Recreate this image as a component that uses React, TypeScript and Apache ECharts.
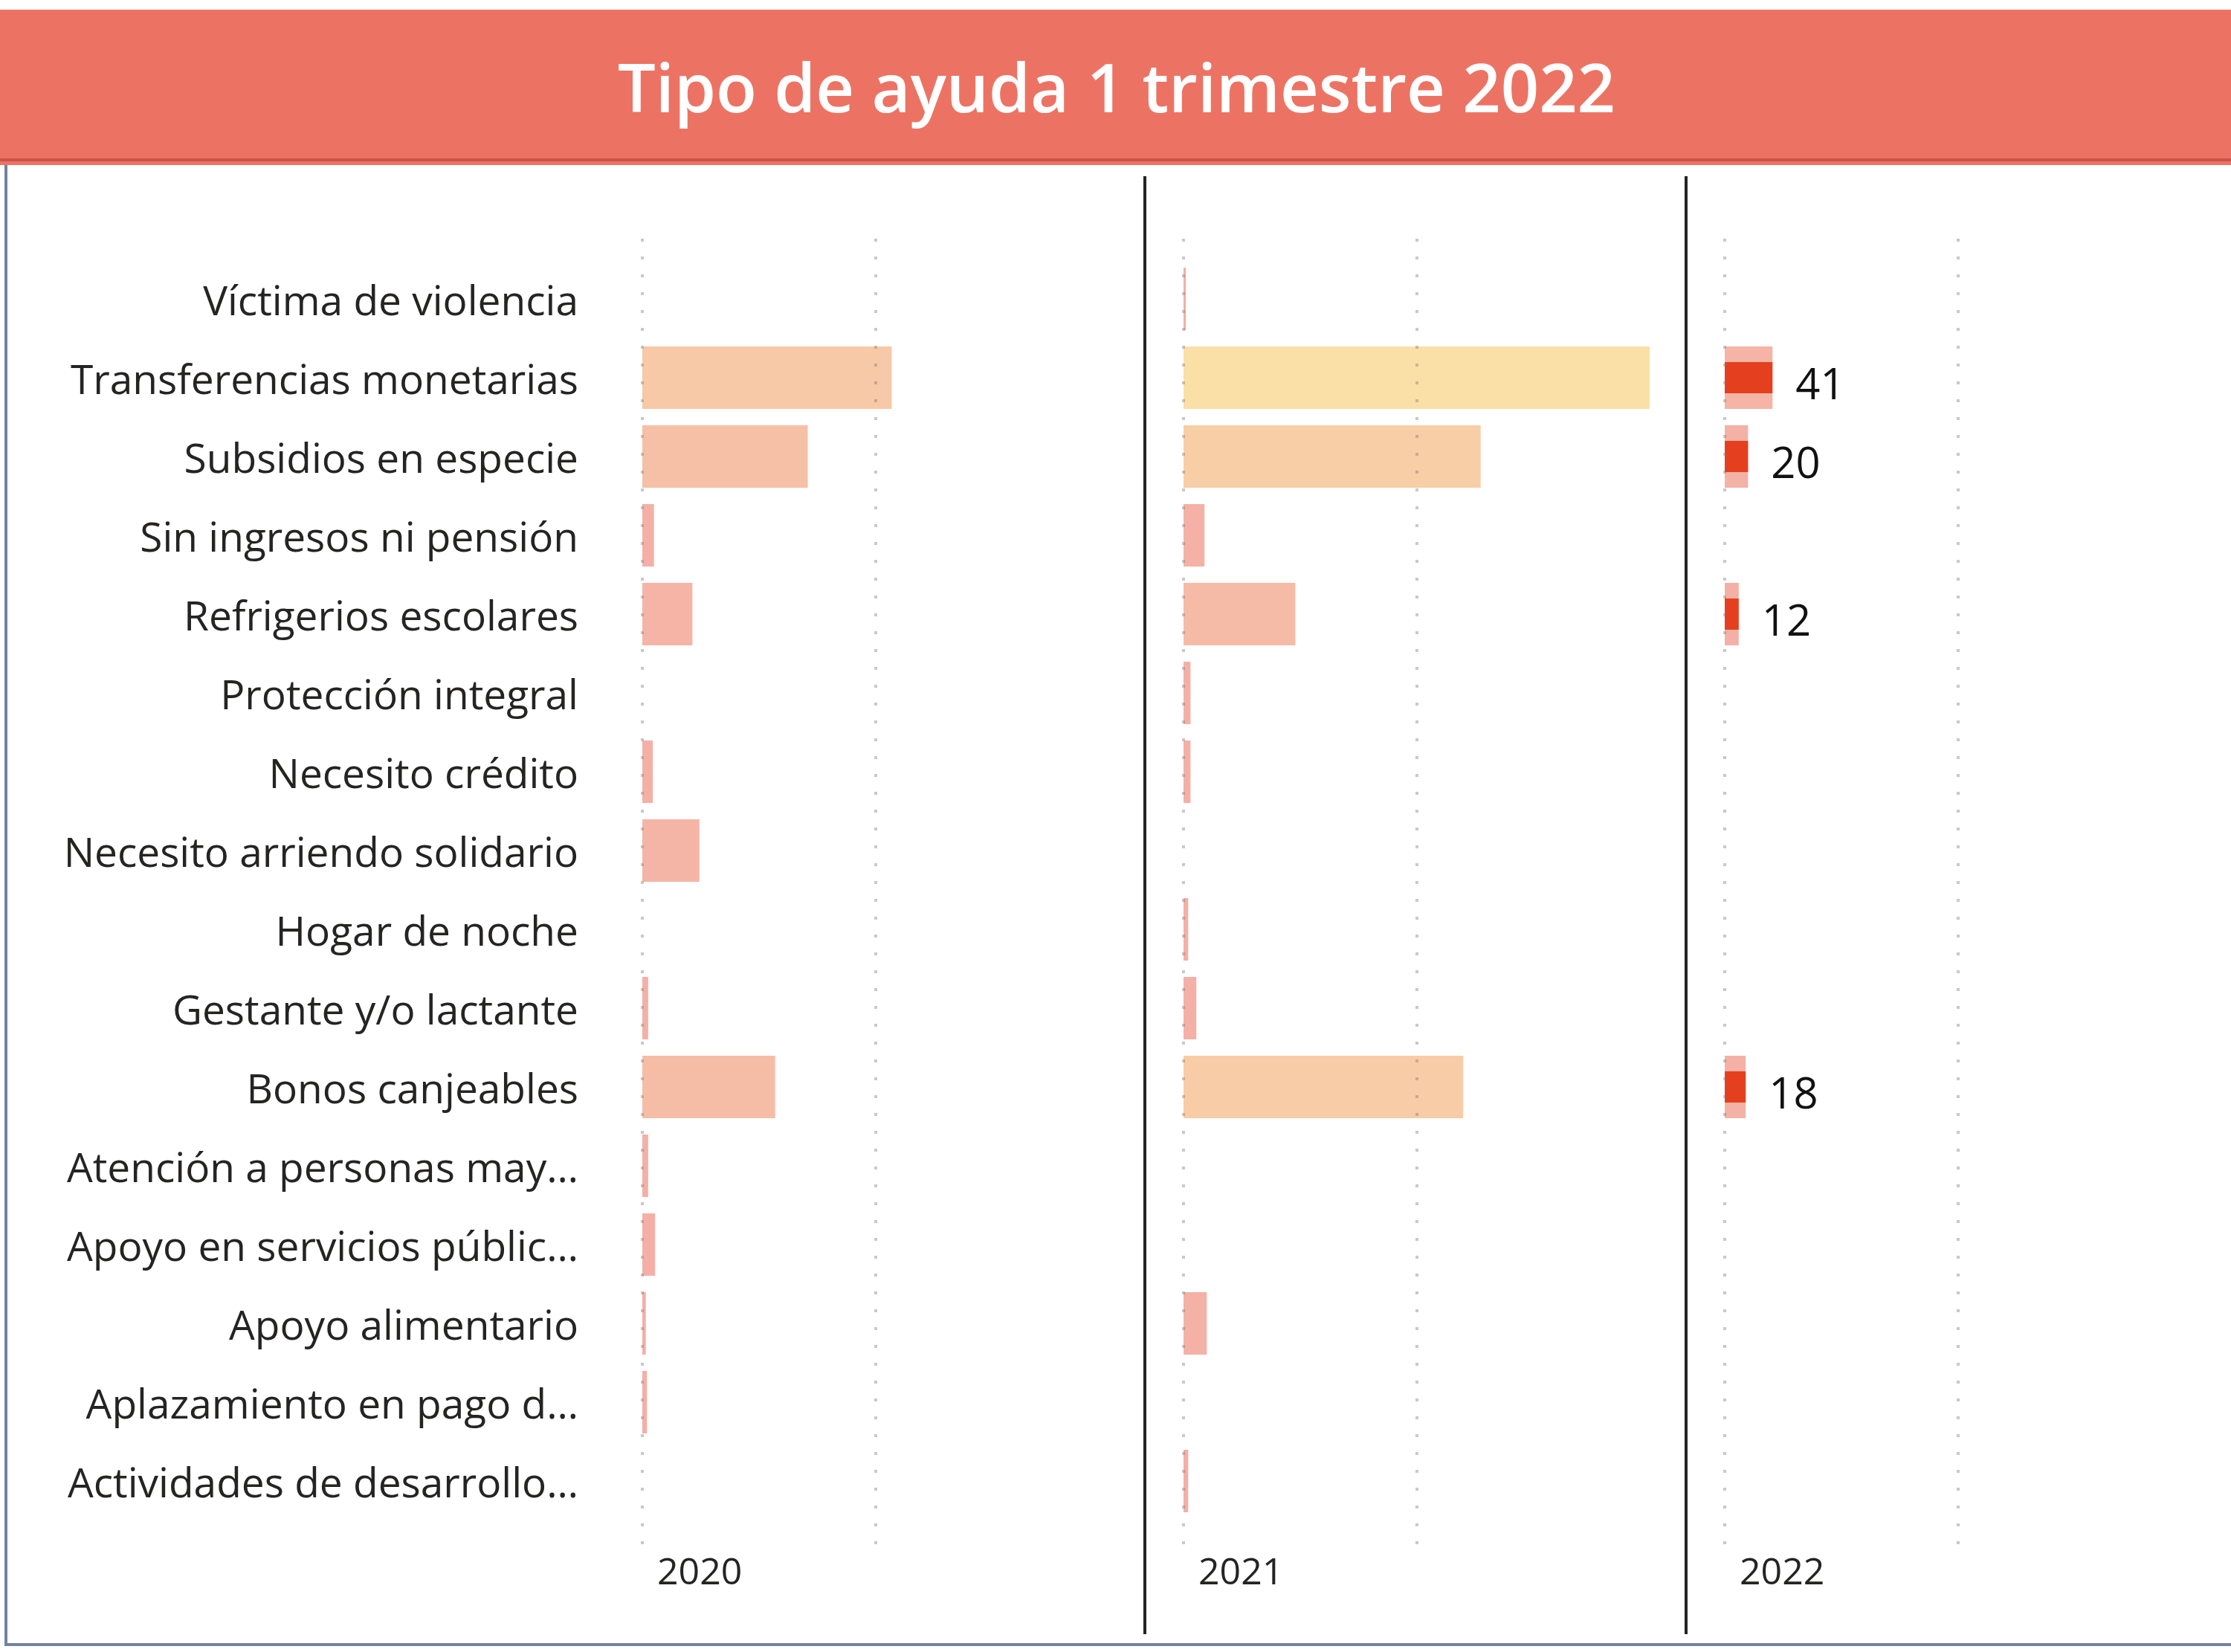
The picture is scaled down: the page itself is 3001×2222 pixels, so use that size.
import React, { useEffect, useRef } from "react";
import * as echarts from "echarts";

const categories = [
  "Víctima de violencia",
  "Transferencias monetarias",
  "Subsidios en especie",
  "Sin ingresos ni pensión",
  "Refrigerios escolares",
  "Protección integral",
  "Necesito crédito",
  "Necesito arriendo solidario",
  "Hogar de noche",
  "Gestante y/o lactante",
  "Bonos canjeables",
  "Atención a personas may…",
  "Apoyo en servicios públic…",
  "Apoyo alimentario",
  "Aplazamiento en pago d…",
  "Actividades de desarrollo…",
];

const years = ["2020", "2021", "2022"];

const values2020 = [null, 214, 142, 10, 43, null, 9, 49, null, 5, 114, 5, 11, 3, 4, null];
const values2021 = [2, 400, 255, 18, 96, 6, 6, null, 4, 11, 240, null, null, 20, null, 4];
const values2022 = [null, 41, 20, null, 12, null, null, null, null, null, 18, null, null, null, null, null];

const AXIS_MAX = 400;
const GRID_INTERVAL = 200;

const FONT = '"Open Sans", "Noto Sans", sans-serif';

const PANEL_LEFT = 864;
const PANEL_STEP = 728;
const PLOT_W = 627;
const BAR_TOP = 349;
const BAR_H = 1696;
const LINE_TOP = 321;
const LINE_H = 1758;

const allVals = [...values2020, ...values2021, ...values2022].filter((v) => v != null) as number[];
const GRAD_MAX = Math.max(...allVals);

function gradColor(v: number) {
  const t = Math.max(0, Math.min(1, v / GRAD_MAX));
  const r = Math.round(244 + 6 * t);
  const g = Math.round(175 + 49 * t);
  const b = 166;
  return `rgb(${r},${g},${b})`;
}

export default function App() {
  const ref = useRef<HTMLDivElement>(null);

  useEffect(() => {
    document.body.style.margin = "0";
    if (!ref.current) return;
    const chart = echarts.init(ref.current, undefined, { renderer: "svg" });

    const panels = [values2020, values2021, values2022];
    const grids: any[] = [];
    const xAxes: any[] = [];
    const yAxes: any[] = [];
    const series: any[] = [];

    panels.forEach((_, i) => {
      grids.push({
        left: PANEL_LEFT + i * PANEL_STEP,
        top: BAR_TOP,
        width: PLOT_W,
        height: BAR_H,
        containLabel: false,
        outerBoundsMode: "none",
      });
      xAxes.push({
        type: "value",
        gridIndex: i,
        min: 0,
        max: AXIS_MAX,
        show: false,
      });
      yAxes.push({
        type: "category",
        gridIndex: i,
        data: categories,
        inverse: true,
        axisLine: { show: false },
        axisTick: { show: false },
        splitLine: { show: false },
        axisLabel: {
          show: i === 0,
          fontSize: 55,
          fontFamily: FONT,
          color: "#252423",
          margin: 86,
        },
      });
    });

    // extra hidden category axis for the highlight overlay on 2022 panel
    yAxes.push({
      type: "category",
      gridIndex: 2,
      data: categories,
      inverse: true,
      show: false,
    });

    // gridline grids
    panels.forEach((_, i) => {
      grids.push({
        left: PANEL_LEFT + i * PANEL_STEP,
        top: LINE_TOP,
        width: PLOT_W,
        height: LINE_H,
        containLabel: false,
        outerBoundsMode: "none",
      });
      xAxes.push({
        type: "value",
        gridIndex: 3 + i,
        min: 0,
        max: AXIS_MAX,
        interval: GRID_INTERVAL,
        z: 5,
        axisLine: { show: false },
        axisTick: { show: false },
        axisLabel: { show: false },
        splitLine: {
          show: true,
          showMinLine: true,
          showMaxLine: false,
          lineStyle: { type: [4, 20], width: 4, color: "rgba(120,120,120,0.4)" },
        },
      });
      yAxes.push({
        type: "value",
        gridIndex: 3 + i,
        min: 0,
        max: 1,
        show: false,
      });
    });

    series.push({
      type: "bar",
      name: years[0],
      xAxisIndex: 0,
      yAxisIndex: 0,
      data: values2020,
      barWidth: 84,
      itemStyle: { color: (p: any) => gradColor(p.value) },
    });
    series.push({
      type: "bar",
      name: years[1],
      xAxisIndex: 1,
      yAxisIndex: 1,
      data: values2021,
      barWidth: 84,
      itemStyle: { color: (p: any) => gradColor(p.value) },
    });
    series.push({
      type: "bar",
      name: years[2],
      xAxisIndex: 2,
      yAxisIndex: 2,
      data: values2022,
      barWidth: 84,
      itemStyle: { color: (p: any) => gradColor(p.value) },
      label: {
        show: true,
        position: "right",
        distance: 31,
        offset: [0, 6],
        fontSize: 58,
        fontFamily: FONT,
        color: "#111111",
        formatter: (p: any) => (p.value == null ? "" : String(p.value)),
      },
    });
    series.push({
      type: "bar",
      name: years[2] + " destacado",
      xAxisIndex: 2,
      yAxisIndex: 3,
      data: values2022,
      barWidth: 42,
      itemStyle: { color: "#E4401F" },
    });

    const graphic: any[] = [
      { type: "rect", shape: { x: 0, y: 13, width: 3001, height: 209 }, style: { fill: "#EC7363" }, z: 10 },
      { type: "rect", shape: { x: 0, y: 213, width: 3001, height: 4 }, style: { fill: "#C9534A" }, z: 11 },
      {
        type: "text",
        x: 1502,
        y: 116,
        z: 12,
        style: {
          text: "Tipo de ayuda 1 trimestre 2022",
          fill: "#ffffff",
          fontSize: 90,
          fontWeight: 600,
          fontFamily: FONT,
          textAlign: "center",
          textVerticalAlign: "middle",
        },
      },
      // outer frame
      { type: "line", shape: { x1: 8, y1: 215, x2: 8, y2: 2212 }, style: { stroke: "#7084A2", lineWidth: 4 }, z: 9 },
      { type: "line", shape: { x1: 6, y1: 2212, x2: 3001, y2: 2212 }, style: { stroke: "#7084A2", lineWidth: 4 }, z: 9 },
    ];

    // panel dividers
    [1, 2].forEach((i) => {
      const x = PANEL_LEFT + i * PANEL_STEP - 52;
      graphic.push({
        type: "line",
        shape: { x1: x, y1: 237, x2: x, y2: 2198 },
        style: { stroke: "#252423", lineWidth: 4 },
        z: 9,
      });
    });

    years.forEach((yr, i) => {
      graphic.push({
        type: "text",
        x: PANEL_LEFT + i * PANEL_STEP + 20,
        y: 2112,
        z: 9,
        style: {
          text: yr,
          fill: "#252423",
          fontSize: 50,
          fontFamily: FONT,
          textAlign: "left",
          textVerticalAlign: "middle",
        },
      });
    });

    chart.setOption({
      animation: false,
      backgroundColor: "#ffffff",
      grid: grids,
      xAxis: xAxes,
      yAxis: yAxes,
      series,
      graphic,
    });

    return () => chart.dispose();
  }, []);

  return <div ref={ref} style={{ width: 3001, height: 2222 }} />;
}
